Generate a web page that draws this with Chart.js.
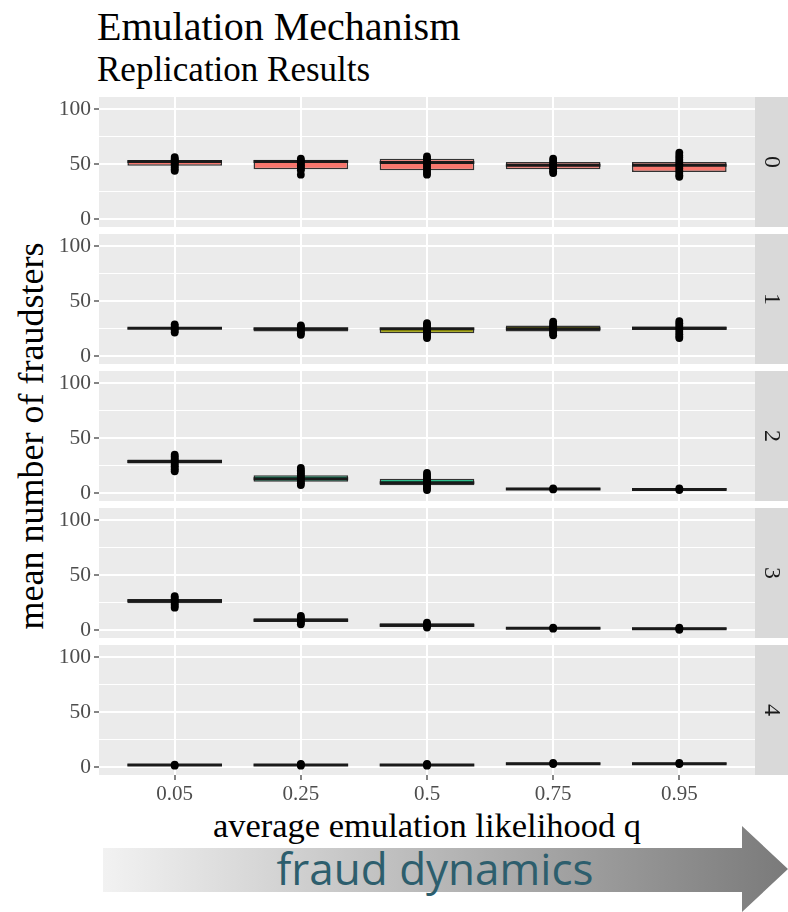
<!DOCTYPE html>
<html>
<head>
<meta charset="utf-8">
<script src="https://cdn.jsdelivr.net/npm/chart.js@4.4.1/dist/chart.umd.min.js"></script>
<style>
html,body{margin:0;padding:0;background:#fff;}
body{width:788px;height:912px;position:relative;overflow:hidden;font-family:'Liberation Serif','Times New Roman',serif;color:#000;}
.abs{position:absolute;white-space:nowrap;}
canvas{position:absolute;left:0;}
#title{left:97px;top:7px;font-size:40px;line-height:40px;}
#subtitle{left:97px;top:52px;font-size:35px;line-height:35px;}
#ytitle{left:31px;top:436px;font-size:36px;line-height:36px;transform:translate(-50%,-50%) rotate(-90deg);}
#xtitle{left:427px;top:808px;font-size:34.5px;line-height:35px;transform:translateX(-50%);}
#arrow{left:0;top:820px;}
#fraud{left:435px;top:846px;font-family:'Open Sans',sans-serif;font-size:44px;line-height:44px;color:#2d5e6d;transform:translateX(-50%);}
</style>
</head>
<body>
<div id="title" class="abs">Emulation Mechanism</div>
<div id="subtitle" class="abs">Replication Results</div>
<div id="ytitle" class="abs">mean number of fraudsters</div>
<div id="xtitle" class="abs">average emulation likelihood q</div>
<svg id="arrow" class="abs" width="788" height="92" viewBox="0 0 788 92">
  <defs>
    <linearGradient id="g" gradientUnits="userSpaceOnUse" x1="103" y1="0" x2="788" y2="0">
      <stop offset="0" stop-color="#f2f2f2"/>
      <stop offset="1" stop-color="#7a7a7a"/>
    </linearGradient>
  </defs>
  <polygon points="103,28 742,28 742,6 788,49 742,92 742,72 103,72" fill="url(#g)"/>
</svg>
<div id="fraud" class="abs">fraud dynamics</div>
<script>
// ---- data ----
const categories = ['0.05', '0.25', '0.5', '0.75', '0.95'];
const facetLabels = ['0', '1', '2', '3', '4'];
const facetFills = ['#F8766D', '#A3A500', '#00BF7D', '#00B0F6', '#E76BF3'];
const yTickValues = [0, 25, 50, 75, 100];
const yLabelValues = [0, 50, 100];

const q1Values = [
  [48.5, 45.5, 44.5, 45.5, 43],
  [25, 22.5, 21, 22.5, 23.8],
  [27, 10.5, 7.3, 3, 2.8],
  [24.5, 7.5, 3, 1.2, 0.8],
  [1.5, 1.5, 1.5, 2.5, 2.5]
];
const medianValues = [
  [52.5, 52.5, 51.5, 49, 49],
  [25.5, 25, 25, 25, 25.5],
  [28.8, 13.3, 9.5, 4, 3.5],
  [26.7, 9.2, 4.5, 1.8, 1.5],
  [2, 2, 2, 3.3, 3.3]
];
const q3Values = [
  [53.6, 54, 55, 52, 52],
  [26, 26, 26, 28, 27],
  [30.6, 16.4, 13.3, 5, 4.8],
  [28.5, 11, 6.3, 2.5, 2.5],
  [2.8, 2.8, 2.8, 4.3, 4.3]
];
const pointValues = [
  [
    [44, 45.5, 47, 48.5, 50, 51, 52, 53, 54, 55, 56.5],
    [40.5, 44.5, 46, 47.5, 49, 50.5, 52, 53.5, 55],
    [40.5, 42, 44, 46, 48, 50, 52, 54, 55.5, 57],
    [42, 43.5, 45, 47, 49, 51, 53, 55],
    [38.5, 40, 42, 44, 46, 48, 50, 52, 54, 56, 58, 60.5]
  ],
  [
    [21.5, 23, 24.5, 26, 27.5, 29],
    [19.5, 21, 22.5, 24, 25.5, 27, 28],
    [16.5, 18, 19.5, 21, 22.5, 24, 25.5, 27, 28.5, 30],
    [19, 20.5, 22, 23.5, 25, 26.5, 28, 29.5, 31.5],
    [16.5, 18, 20, 22, 24, 26, 28, 30, 32]
  ],
  [
    [20, 21.5, 23, 24.5, 26, 27.5, 29, 30.5, 32, 33.5, 35],
    [7.5, 9, 10.5, 12, 13.5, 15, 16.5, 18, 19.5, 21, 23],
    [3, 4.5, 6, 7.5, 9, 10.5, 12, 13.5, 15, 16.5, 18.5],
    [3.5, 4.5],
    [3, 4.5]
  ],
  [
    [20.5, 22, 23.5, 25, 26.5, 28, 29.5, 31],
    [5.5, 7, 8.5, 10, 11.5, 13],
    [2.5, 4, 5.5, 7],
    [1.5, 2.5],
    [0.5, 1.5, 2.5]
  ],
  [
    [1.5, 2.5],
    [1.5, 2.5, 3],
    [1.5, 2.5, 3],
    [3, 4],
    [3, 4]
  ]
];

// ---- layout ----
const PANEL_TOPS = [97, 234, 371, 508, 645];
const PANEL_H = 130;
const Y_MIN = -7, Y_MAX = 111;

Chart.defaults.font.family = "'Liberation Serif', 'Times New Roman', serif";

const panelPlugin = {
  id: 'panelBg',
  beforeDraw(chart, args, opts) {
    const { ctx, chartArea: a } = chart;
    ctx.save();
    ctx.fillStyle = '#ebebeb';
    ctx.fillRect(a.left, a.top, a.right - a.left, a.bottom - a.top);
    ctx.fillStyle = '#d9d9d9';
    ctx.fillRect(a.right, a.top, 33, a.bottom - a.top);
    ctx.fillStyle = '#1a1a1a';
    ctx.font = "24px 'Liberation Serif', serif";
    ctx.translate(a.right + 16.5, (a.top + a.bottom) / 2);
    ctx.rotate(Math.PI / 2);
    ctx.textAlign = 'center';
    ctx.textBaseline = 'middle';
    ctx.fillText(opts.label, 0, 0);
    ctx.restore();
  }
};

facetLabels.forEach((lab, f) => {
  const isLast = f === facetLabels.length - 1;
  const padTop = 16;
  const padBottom = isLast ? 2 : 16;
  const xAxisH = isLast ? 34 : 0;
  const h = padTop + PANEL_H + xAxisH + padBottom;
  const canvas = document.createElement('canvas');
  canvas.width = 788; canvas.height = h;
  canvas.style.width = '788px'; canvas.style.height = h + 'px';
  canvas.style.top = (PANEL_TOPS[f] - padTop) + 'px';
  document.body.appendChild(canvas);

  const boxData = categories.map((c, i) => ({ x: i, y: [q1Values[f][i], q3Values[f][i]] }));
  const medData = categories.map((c, i) => ({ x: i, y: medianValues[f][i] }));
  const ptData = pointValues[f].flatMap((arr, i) => arr.map(v => ({ x: i, y: v })));

  new Chart(canvas, {
    type: 'bar',
    data: {
      datasets: [
        { type: 'bar', data: boxData, backgroundColor: facetFills[f], borderColor: '#333333',
          borderWidth: 1.5, borderSkipped: false, barPercentage: 0.75, categoryPercentage: 1,
          grouped: false, order: 2 },
        { type: 'scatter', data: medData, showLine: false, pointStyle: 'line', pointRadius: 47.3,
          pointHoverRadius: 47.3, pointBorderWidth: 3, pointBorderColor: '#1a1a1a', order: 1 },
        { type: 'scatter', data: ptData, showLine: false, pointRadius: 3.9, pointHoverRadius: 3.9,
          pointBackgroundColor: '#000', pointBorderColor: '#000', pointBorderWidth: 0, order: 0 }
      ]
    },
    options: {
      responsive: false, animation: false, devicePixelRatio: 1, events: [],
      layout: { autoPadding: false, padding: { left: 0, right: 33, top: padTop, bottom: padBottom } },
      plugins: { legend: { display: false }, tooltip: { enabled: false }, panelBg: { label: lab } },
      scales: {
        x: {
          type: 'linear', min: -0.6, max: 4.6, offset: false,
          afterBuildTicks: s => { s.ticks = categories.map((c, i) => ({ value: i })); },
          afterFit: s => { s.height = xAxisH; },
          grid: { color: '#ffffff', lineWidth: 2, offset: false, drawTicks: isLast, tickLength: 5,
                  tickColor: '#333333', tickWidth: 1.2 },
          border: { display: false },
          ticks: { display: isLast, autoSkip: false, maxRotation: 0, padding: 2,
                   callback: v => categories[v], color: '#4d4d4d', font: { size: 21 } }
        },
        y: {
          type: 'linear', min: Y_MIN, max: Y_MAX,
          afterBuildTicks: s => { s.ticks = yTickValues.map(v => ({ value: v })); },
          afterFit: s => { s.width = 99; },
          grid: {
            color: '#ffffff',
            lineWidth: c => (c.tick && yLabelValues.includes(c.tick.value)) ? 2 : 1,
            drawTicks: true, tickLength: 5, tickWidth: 1.2,
            tickColor: c => (c.tick && yLabelValues.includes(c.tick.value)) ? '#333333' : 'rgba(0,0,0,0)'
          },
          border: { display: false },
          ticks: { autoSkip: false, padding: 3, color: '#4d4d4d', font: { size: 21.5 },
                   callback: v => yLabelValues.includes(v) ? String(v) : '' }
        }
      }
    },
    plugins: [panelPlugin]
  });
});
</script>
</body>
</html>
